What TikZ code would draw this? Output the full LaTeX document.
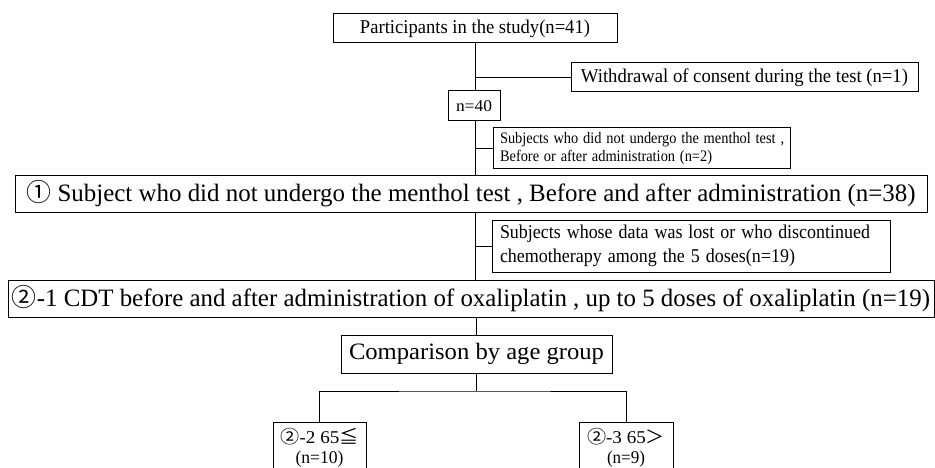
\documentclass[tikz,border=0pt]{standalone}
\usepackage{fontspec}
\setmainfont{Liberation Serif}
\newfontfamily\cjk{Noto Sans CJK JP}
\usepackage{graphicx}
\newcommand\fitw[2]{\resizebox{#1pt}{\height}{#2}}
\begin{document}
\begin{tikzpicture}[x=1pt,y=-1pt,
  box/.style={draw, line width=1pt, inner sep=0pt, anchor=center},
  conn/.style={line width=1pt}]
\useasboundingbox (0,0) rectangle (935,468);
\clip (0,0) rectangle (935,468);

\node[box, minimum width=284pt, minimum height=29pt, font=\fontsize{19.5}{22}\selectfont] (P) at (475,28.5)
  {\fitw{230}{Participants in the study(n=41)}};
\node[box, minimum width=347pt, minimum height=29pt, font=\fontsize{19.5}{22}\selectfont] (W) at (744.5,77.5)
  {\fitw{327}{Withdrawal of consent during the test (n=1)}};
\node[box, minimum width=52pt, minimum height=30pt, font=\fontsize{16.5}{18}\selectfont] (n40) at (474,106)
  {\fitw{36}{n=40}};
\node[box, minimum width=297pt, minimum height=41pt, text width=283pt, align=left, inner xsep=7pt,
  font=\fontsize{16}{18}\selectfont] (S1) at (641.5,148.5)
  {\scalebox{0.9}[1]{Subjects who did not undergo the menthol test ,}\\
   \scalebox{0.9}[1]{Before or after administration (n=2)}};
\node[box, minimum width=912pt, minimum height=36pt, font=\fontsize{25}{28}\selectfont] (c1) at (471,194)
  {\fitw{889}{{\cjk ①} Subject who did not undergo the menthol test , Before and after administration (n=38)}};
\node[box, minimum width=398pt, minimum height=52pt, text width=382pt, align=left, inner xsep=8pt,
  font=\fontsize{19.5}{24}\selectfont] (S2) at (691,246)
  {\fitw{370}{Subjects whose data was lost or who discontinued}\\
   \fitw{295}{chemotherapy among the 5 doses(n=19)}};
\node[box, minimum width=926pt, minimum height=37pt, font=\fontsize{25}{28}\selectfont] (c2) at (471,298.5)
  {\fitw{918}{{\cjk ②}-1 CDT before and after administration of oxaliplatin , up to 5 doses of oxaliplatin (n=19)}};
\node[box, minimum width=271pt, minimum height=38pt, font=\fontsize{23.5}{26}\selectfont] (cmp) at (476.5,354)
  {\fitw{255}{Comparison by age group}};
\node[box, minimum width=93pt, minimum height=52pt, align=center, font=\fontsize{18}{20}\selectfont] (g2) at (319.5,448)
  {\fitw{78}{{\cjk ②}-2 65{\cjk ≦}}\\ \fitw{48}{(n=10)}};
\node[box, minimum width=94pt, minimum height=52pt, align=center, font=\fontsize{18}{20}\selectfont] (g3) at (626,448)
  {\fitw{78}{{\cjk ②}-3 65{\cjk ＞}}\\ \fitw{38}{(n=9)}};

\coordinate (tr) at (475,0);
\coordinate (br) at (476.5,391);
\draw[conn] (P.south) -- (tr |- n40.north);
\draw[conn] (tr |- W.west) -- (W.west);
\draw[conn] (tr |- n40.south) -- (tr |- c1.north);
\draw[conn] (tr |- S1.west) -- (S1.west);
\draw[conn] (tr |- c1.south) -- (tr |- c2.north);
\draw[conn] (tr |- S2.west) -- (S2.west);
\draw[conn] (cmp.north |- c2.south) -- (cmp.north);
\draw[conn] (cmp.south) -- (br);
\draw[conn] (g2.north) |- (br) -| (g3.north);
\end{tikzpicture}
\end{document}
